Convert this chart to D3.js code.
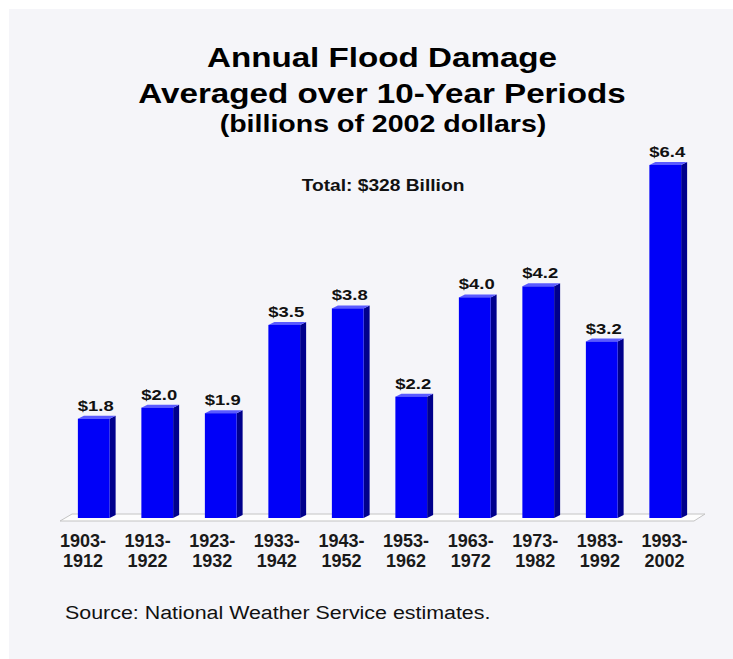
<!DOCTYPE html>
<html><head><meta charset="utf-8">
<script src="https://cdn.jsdelivr.net/npm/d3@7"></script>
<style>body{margin:0;background:#fff}svg{display:block}</style>
</head><body>
<script>
const periodStart = ["1903-","1913-","1923-","1933-","1943-","1953-","1963-","1973-","1983-","1993-"];
const periodEnd = ["1912","1922","1932","1942","1952","1962","1972","1982","1992","2002"];
const damage = [1.8, 2.0, 1.9, 3.5, 3.8, 2.2, 4.0, 4.2, 3.2, 6.4];
const valueLabels = ["$1.8","$2.0","$1.9","$3.5","$3.8","$2.2","$4.0","$4.2","$3.2","$6.4"];

const W = 733, H = 659;
const svg = d3.select("body").append("svg").attr("width", W).attr("height", H);
svg.append("rect").attr("x", 9).attr("y", 9).attr("width", W - 9).attr("height", H - 9).attr("fill", "#f5f5f9");

const font = "Liberation Sans, Arial, sans-serif";
function stext(g, cx, y, size, sx, txt, opts = {}) {
  return g.append("text")
    .attr("transform", `translate(${cx},${y}) scale(${sx},1)`)
    .attr("text-anchor", opts.anchor || "middle")
    .attr("font-family", font)
    .attr("font-weight", opts.weight || "bold")
    .attr("font-size", size)
    .attr("fill", opts.fill || "#000")
    .text(txt);
}

stext(svg, 382, 67, 28, 1.185, "Annual Flood Damage");
stext(svg, 382, 103, 28, 1.185, "Averaged over 10-Year Periods");
stext(svg, 383, 132, 24, 1.19, "(billions of 2002 dollars)");
stext(svg, 383, 191, 16, 1.2, "Total: $328 Billion", {fill: "#111"});

const x = d3.scaleBand().domain(periodStart.map((d,i)=>i)).range([62, 697]).paddingInner(0.5).paddingOuter(0.25);
const xl = d3.scalePoint().domain(periodStart.map((d,i)=>i)).range([83, 664.5]);
const base = 518;
const y = d3.scaleLinear().domain([0, 6.4]).range([base, 165]);

// floor
svg.append("path")
  .attr("d", `M60,521 L72,514 L705,514 L694,521 Z`)
  .attr("fill", "#fdfdfd").attr("stroke", "#c4c4c4").attr("stroke-width", 1);

const depth = 6;
const bars = svg.append("g").selectAll("g").data(damage).join("g");
bars.append("path")
  .attr("d", (d,i) => { const x0 = x(i) + x.bandwidth(), t = y(d);
    return `M${x0},${t} L${x0+depth},${t-3} L${x0+depth},${base-3} L${x0},${base} Z`; })
  .attr("fill", "#00008c");
bars.append("path")
  .attr("d", (d,i) => { const x0 = x(i), x1 = x(i) + x.bandwidth(), t = y(d);
    return `M${x0},${t} L${x0+depth},${t-3} L${x1+depth},${t-3} L${x1},${t} Z`; })
  .attr("fill", "#5a5aff");
bars.append("rect")
  .attr("x", (d,i) => x(i)).attr("y", d => y(d))
  .attr("width", x.bandwidth()).attr("height", d => base - y(d))
  .attr("fill", "#0000f8");
bars.each(function(d,i){
  stext(d3.select(this), x(i) + x.bandwidth()/2 + 2, y(d) - 8, 15.5, 1.19, valueLabels[i], {fill: "#111"});
});

const xAxis = svg.append("g");
periodStart.forEach((s,i) => {
  stext(xAxis, xl(i), 547, 17.5, 1.03, s, {fill: "#1a1a1a"});
  stext(xAxis, xl(i), 567, 17.5, 1.03, periodEnd[i], {fill: "#1a1a1a"});
});

stext(svg, 65, 619, 18, 1.19, "Source: National Weather Service estimates.", {anchor: "start", weight: "normal", fill: "#111"});
</script>
</body></html>
